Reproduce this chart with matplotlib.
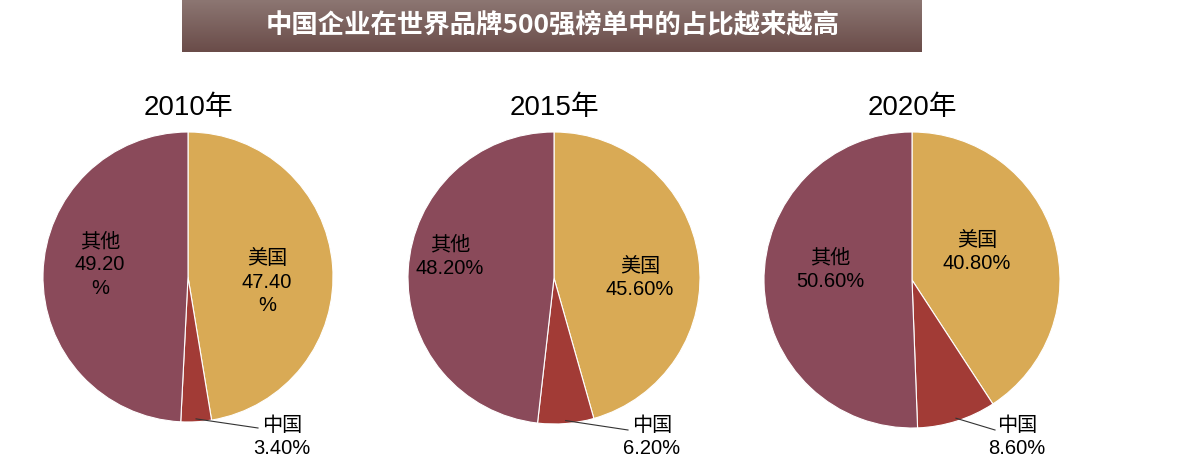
import numpy as np
import matplotlib
matplotlib.use('Agg')
import matplotlib.pyplot as plt

# data
years = ['2010年', '2015年', '2020年']
categories = ['美国', '中国', '其他']
us_share = [47.40, 45.60, 40.80]
cn_share = [3.40, 6.20, 8.60]
other_share = [49.20, 48.20, 50.60]
title = '中国企业在世界品牌500强榜单中的占比越来越高'

colors = ['#D9AA55', '#A23B36', '#8A4A5A']
fonts = ['Liberation Sans', 'Noto Sans CJK SC']

W, H = 1200, 473
fig = plt.figure(figsize=(W / 100, H / 100), dpi=100)
ax = fig.add_axes([0, 0, 1, 1])
ax.set_xlim(0, W)
ax.set_ylim(0, H)
ax.set_aspect('equal')
ax.axis('off')

# title banner with vertical gradient
grad = np.linspace(0, 1, 100).reshape(-1, 1)
cmap = matplotlib.colors.LinearSegmentedColormap.from_list('banner', ['#8C7672', '#6A4C49'])
ax.imshow(grad, extent=(182, 922, H - 52, H), cmap=cmap, aspect='auto', zorder=1)
ax.text(553, H - 26, title, color='white', fontsize=19, fontweight='bold',
        family=['Noto Sans CJK SC'], ha='center', va='center', zorder=2)

# layout per pie (pixel coords, y from top)
centers = [(188, 277), (554, 278), (912, 280)]
radii = [145, 146, 148]
title_pos = [(188, 108), (554, 108), (912, 108)]
us_pos = [(267, 282), (640, 278), (977, 252)]
other_pos = [(100, 265), (450, 257), (830, 270)]
cn_pos = [(282, 437), (652, 437), (1017, 437)]
cn_line_end = [(258, 428), (628, 430), (995, 430)]

def fmt(v, wrap):
    s = '%.2f' % v
    return s + '\n%' if wrap else s + '%'

for i in range(3):
    cx, cy = centers[i]
    r = radii[i]
    vals = [us_share[i], cn_share[i], other_share[i]]
    wedges, _ = ax.pie(vals, colors=colors, startangle=90, counterclock=False,
                       center=(cx, H - cy), radius=r, frame=True,
                       wedgeprops=dict(edgecolor='white', linewidth=0.8))
    ax.text(title_pos[i][0], H - title_pos[i][1], years[i], fontsize=20,
            family=fonts, ha='center', va='center')
    wrap = (i == 0)
    ax.text(us_pos[i][0], H - us_pos[i][1], categories[0] + '\n' + fmt(us_share[i], wrap),
            fontsize=14.5, family=fonts, ha='center', va='center', linespacing=1.3)
    ax.text(other_pos[i][0], H - other_pos[i][1], categories[2] + '\n' + fmt(other_share[i], wrap),
            fontsize=14.5, family=fonts, ha='center', va='center', linespacing=1.3)
    # china label with leader line from wedge edge
    w = wedges[1]
    mid = np.deg2rad((w.theta1 + w.theta2) / 2)
    px = cx + r * 0.98 * np.cos(mid)
    py = H - cy + r * 0.98 * np.sin(mid)
    ex, ey = cn_line_end[i]
    ax.plot([px, ex], [py, H - ey], color='#333333', linewidth=0.8)
    ax.text(cn_pos[i][0], H - cn_pos[i][1], categories[1] + '\n' + '%.2f%%' % cn_share[i],
            fontsize=14.5, family=fonts, ha='center', va='center', linespacing=1.3)

ax.set_xlim(0, W)
ax.set_ylim(0, H)
ax.axis('off')
fig.savefig('out.png', dpi=100)
